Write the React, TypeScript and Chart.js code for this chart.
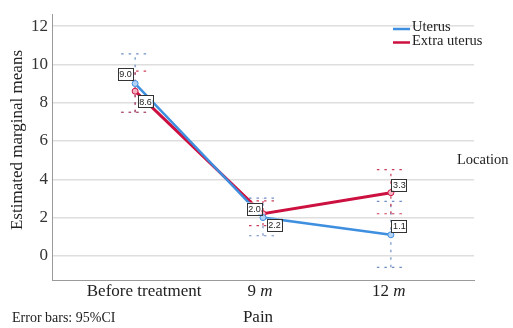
import React, { useEffect, useRef } from "react";
import { Chart, registerables } from "chart.js";
Chart.register(...registerables);

const categories = ["Before treatment", "9 m", "12 m"];
const seriesNames = ["Uterus", "Extra uterus"];
const uterusMeans = [9.0, 2.0, 1.1];
const extraMeans = [8.6, 2.2, 3.3];
const uterusLow = [7.5, 1.05, -0.6];
const uterusHigh = [10.55, 3.02, 2.85];
const extraLow = [7.5, 1.58, 2.2];
const extraHigh = [9.65, 2.87, 4.5];
const yTicks = [0, 2, 4, 6, 8, 10, 12];

const BLUE = "#3f8fe0";
const RED = "#cc1040";
const BLUE_EB = "rgba(95,130,190,0.9)";
const RED_EB = "rgba(200,40,70,0.9)";
const SERIF = "'Liberation Serif', 'Times New Roman', serif";

const labelOffsets = [
  [[-10, -10], [-9, -9], [8, -9]],
  [[10, 10], [11, 11], [8, -8]],
];
const tickLabelShift = [9, -3, -2];

const overlay = {
  id: "overlay",
  beforeDatasetsDraw(chart: any) {
    const ctx = chart.ctx;
    const xs = chart.scales.x;
    const ys = chart.scales.y;
    const sets = [
      [uterusLow, uterusHigh, BLUE_EB],
      [extraLow, extraHigh, RED_EB],
    ] as any[];
    ctx.save();
    ctx.lineWidth = 1.2;
    ctx.setLineDash([2.5, 5]);
    sets.forEach(([lo, hi, col]) => {
      ctx.strokeStyle = col;
      lo.forEach((l: number, i: number) => {
        const x = xs.getPixelForValue(i);
        const yl = ys.getPixelForValue(l);
        const yh = ys.getPixelForValue(hi[i]);
        ctx.beginPath();
        ctx.moveTo(x, yl);
        ctx.lineTo(x, yh);
        ctx.moveTo(x - 14, yl);
        ctx.lineTo(x + 14, yl);
        ctx.moveTo(x - 14, yh);
        ctx.lineTo(x + 14, yh);
        ctx.stroke();
      });
    });
    ctx.restore();
  },
  afterDatasetsDraw(chart: any) {
    const ctx = chart.ctx;
    const xs = chart.scales.x;
    const ys = chart.scales.y;
    ctx.save();
    // data labels
    [uterusMeans, extraMeans].forEach((arr, s) => {
      arr.forEach((v, i) => {
        const cx = xs.getPixelForValue(i) + labelOffsets[s][i][0];
        const cy = ys.getPixelForValue(v) + labelOffsets[s][i][1];
        const w = 15, h = 12;
        ctx.fillStyle = "#fff";
        ctx.fillRect(cx - w / 2, cy - h / 2, w, h);
        ctx.strokeStyle = "#333";
        ctx.lineWidth = 1;
        ctx.strokeRect(Math.round(cx - w / 2) + 0.5, Math.round(cy - h / 2) + 0.5, w, h);
        ctx.fillStyle = "#222";
        ctx.font = "9px 'Liberation Sans', Arial, sans-serif";
        ctx.textAlign = "center";
        ctx.textBaseline = "middle";
        ctx.fillText(v.toFixed(1), cx + 0.5, cy + 1);
      });
    });
    // x tick labels
    ctx.fillStyle = "#222";
    ctx.textBaseline = "alphabetic";
    categories.forEach((c, i) => {
      const x = xs.getPixelForValue(i) + tickLabelShift[i];
      const y = 295.5;
      if (c.endsWith(" m")) {
        const a = c.slice(0, -1);
        ctx.font = `17px ${SERIF}`;
        const wa = ctx.measureText(a).width;
        ctx.font = `italic 17px ${SERIF}`;
        const wb = ctx.measureText("m").width;
        const start = x - (wa + wb) / 2;
        ctx.textAlign = "left";
        ctx.font = `17px ${SERIF}`;
        ctx.fillText(a, start, y);
        ctx.font = `italic 17px ${SERIF}`;
        ctx.fillText("m", start + wa, y);
      } else {
        ctx.textAlign = "center";
        ctx.font = `17px ${SERIF}`;
        ctx.fillText(c, x, y);
      }
    });
    // axis titles
    ctx.textAlign = "center";
    ctx.font = `17px ${SERIF}`;
    ctx.fillText("Pain", 258, 322);
    ctx.save();
    ctx.translate(22, 140);
    ctx.rotate(-Math.PI / 2);
    ctx.fillText("Estimated marginal means", 0, 0);
    ctx.restore();
    ctx.textAlign = "left";
    ctx.font = `14px ${SERIF}`;
    ctx.fillText("Error bars: 95%CI", 12, 322);
    ctx.font = `14.5px ${SERIF}`;
    ctx.fillText("Location", 457, 164);
    // legend
    [BLUE, RED].forEach((col, s) => {
      const y = 29 + s * 13.5;
      ctx.strokeStyle = col;
      ctx.lineWidth = 2.5;
      ctx.beginPath();
      ctx.moveTo(393, y);
      ctx.lineTo(410, y);
      ctx.stroke();
      ctx.fillStyle = "#222";
      ctx.font = `14.5px ${SERIF}`;
      ctx.textBaseline = "middle";
      ctx.fillText(seriesNames[s], 412, y - 1.5);
    });
    ctx.restore();
  },
};

export default function App() {
  const ref = useRef<HTMLCanvasElement>(null);
  useEffect(() => {
    if (!ref.current) return;
    const mk = (arr: number[]) => arr.map((v, i) => ({ x: i, y: v }));
    const chart = new Chart(ref.current, {
      type: "line",
      data: {
        datasets: [
          {
            label: seriesNames[0],
            data: mk(uterusMeans),
            borderColor: BLUE,
            borderWidth: 2.5,
            pointRadius: 3,
            pointBorderWidth: 1,
            pointBackgroundColor: "rgba(180,210,245,1)",
            pointBorderColor: BLUE,
          },
          {
            label: seriesNames[1],
            data: mk(extraMeans),
            borderColor: RED,
            borderWidth: 3,
            pointRadius: 3,
            pointBorderWidth: 1,
            pointBackgroundColor: "rgba(245,180,195,1)",
            pointBorderColor: RED,
          },
        ],
      },
      options: {
        responsive: false,
        maintainAspectRatio: false,
        animation: false,
        layout: { padding: { left: 0, right: 39, top: 5, bottom: 0 } },
        plugins: { legend: { display: false }, tooltip: { enabled: false } },
        scales: {
          x: {
            type: "linear",
            min: -0.65,
            max: 2.65,
            grid: { display: false },
            border: { display: true, color: "#9a9a9a", width: 1 },
            ticks: { display: false },
            afterBuildTicks: (s: any) => {
              s.ticks = categories.map((_, i) => ({ value: i }));
            },
            afterFit: (s: any) => {
              s.height = 48;
            },
          },
          y: {
            min: -1.26,
            max: 12.62,
            afterBuildTicks: (s: any) => {
              s.ticks = yTicks.map((v) => ({ value: v }));
            },
            afterFit: (s: any) => {
              s.width = 52;
            },
            grid: { color: "#dedede", lineWidth: 1.5, drawTicks: false },
            border: { display: true, color: "#9a9a9a", width: 1 },
            ticks: {
              font: { family: SERIF, size: 17 },
              color: "#333",
              padding: 4,
            },
          },
        },
      },
      plugins: [overlay],
    } as any);
    return () => chart.destroy();
  }, []);
  return (
    <div style={{ position: "absolute", left: 0, top: 0, width: 513, height: 328, background: "#fff" }}>
      <canvas ref={ref} width={513} height={328} style={{ width: 513, height: 328 }} />
    </div>
  );
}
